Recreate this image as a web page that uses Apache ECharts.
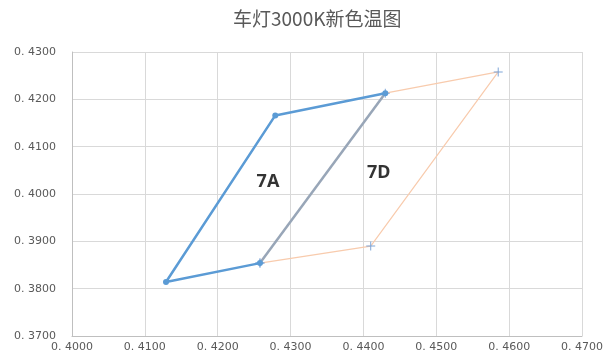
<!DOCTYPE html>
<html lang="zh">
<head>
  <meta charset="UTF-8">
  <title>车灯3000K新色温图</title>
  <script src="https://cdn.jsdelivr.net/npm/echarts@6/dist/echarts.min.js"></script>
  <style>
    html, body { margin: 0; padding: 0; background: #fff; }
    #chart { width: 607px; height: 361px; }
  </style>
</head>
<body>
<div id="chart"></div>
<script>
  // 7A 区域 (x, y)
  var area7A = [[0.4258, 0.3854], [0.4129, 0.3814], [0.4279, 0.4166], [0.4430, 0.4213]];
  // 7A 与 7D 共用边
  var sharedEdge = [[0.4430, 0.4213], [0.4258, 0.3854]];
  // 7D 区域
  var area7D = [[0.4258, 0.3854], [0.4430, 0.4213], [0.4585, 0.4258], [0.4410, 0.3890], [0.4258, 0.3854]];
  // 区域名称
  var areaLabels = [{ name: '7A', value: [0.4269, 0.4026] }, { name: '7D', value: [0.4421, 0.4044] }];

  var chart = echarts.init(document.getElementById('chart'));
  var fmt = function (v) { return v.toFixed(4).replace('.', '. '); };
  var crossPath = 'path://M4,0h1v4h4v1h-4v4h-1v-4h-4v-1h4z';

  var option = {
    animation: false,
    title: {
      text: '车灯3000K新色温图',
      left: 228,
      top: 4,
      textStyle: { fontSize: 19, fontWeight: 'normal', color: '#595959', fontFamily: 'Noto Sans CJK SC' }
    },
    grid: { left: 72, right: 25, top: 52, bottom: 25 },
    xAxis: {
      type: 'value', min: 0.40, max: 0.47, interval: 0.01,
      axisLine: { lineStyle: { color: '#bfbfbf' } },
      axisTick: { show: false },
      splitLine: { lineStyle: { color: '#d9d9d9' } },
      axisLabel: { formatter: fmt, color: '#595959', fontSize: 11, margin: 6, fontFamily: 'DejaVu Sans' }
    },
    yAxis: {
      type: 'value', min: 0.37, max: 0.43, interval: 0.01,
      axisLine: { show: true, lineStyle: { color: '#bfbfbf' } },
      axisTick: { show: false },
      splitLine: { lineStyle: { color: '#d9d9d9' } },
      axisLabel: { formatter: fmt, color: '#595959', fontSize: 11, margin: 16, fontFamily: 'DejaVu Sans' }
    },
    series: [
      {
        name: '7D', type: 'line', data: area7D,
        lineStyle: { color: '#f8cbad', width: 1.2 },
        symbol: crossPath, symbolSize: 9,
        itemStyle: { color: '#7fa6d8' },
        z: 2
      },
      {
        name: '7A', type: 'line', data: area7A,
        lineStyle: { color: '#5b9bd5', width: 2.5 },
        symbol: 'circle', symbolSize: 6,
        itemStyle: { color: '#5b9bd5' },
        z: 3
      },
      {
        name: '共用边', type: 'line', data: sharedEdge,
        lineStyle: { color: '#98a6b8', width: 2.5 },
        symbol: 'none',
        z: 2
      },
      {
        name: '标签', type: 'scatter', data: areaLabels,
        symbolSize: 0,
        label: {
          show: true, position: 'inside', formatter: '{b}',
          color: '#000000', textBorderWidth: 0, fontSize: 18, fontWeight: 'bold', fontFamily: 'Noto Sans'
        },
        z: 4
      }
    ]
  };
  chart.setOption(option);
</script>
</body>
</html>
